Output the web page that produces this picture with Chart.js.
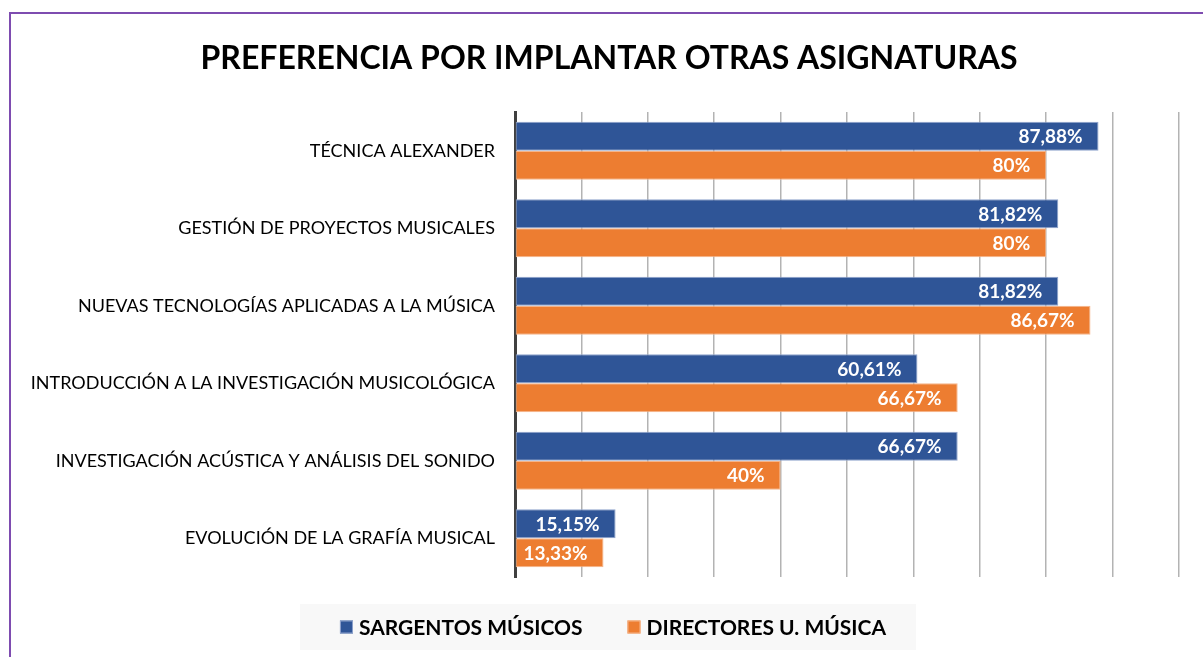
<!DOCTYPE html>
<html>
<head>
<meta charset="utf-8">
<script src="https://cdn.jsdelivr.net/npm/chart.js@4.4.1/dist/chart.umd.min.js"></script>
<style>
  html, body { margin: 0; padding: 0; background: #fff; }
  #wrap { position: relative; width: 1203px; height: 657px; overflow: hidden; }
  #frame { position: absolute; left: 9px; top: 12px; width: 1220px; height: 700px; border: 2px solid #7e4cb0; box-sizing: border-box; }
  canvas { position: absolute; left: 0; top: 0; }
</style>
</head>
<body>
<div id="wrap">
  <div id="frame"></div>
  <canvas id="c" width="1203" height="657"></canvas>
</div>
<script>
const FONT = 'Lato, "Open Sans", sans-serif';
const titleText = 'PREFERENCIA POR IMPLANTAR OTRAS ASIGNATURAS';
const categories = [
  'TÉCNICA ALEXANDER',
  'GESTIÓN DE PROYECTOS MUSICALES',
  'NUEVAS TECNOLOGÍAS APLICADAS A LA MÚSICA',
  'INTRODUCCIÓN A LA INVESTIGACIÓN MUSICOLÓGICA',
  'INVESTIGACIÓN ACÚSTICA Y ANÁLISIS DEL SONIDO',
  'EVOLUCIÓN DE LA GRAFÍA MUSICAL'
];
const seriesNames = ['SARGENTOS MÚSICOS', 'DIRECTORES U. MÚSICA'];
const sargentos = [87.88, 81.82, 81.82, 60.61, 66.67, 15.15];
const directores = [80, 80, 86.67, 66.67, 40, 13.33];
const colors = ['#2F5597', '#ED7D31'];
const borderColors = ['#8FA3CC', '#F5B58A'];

function fmt(v) {
  return (Number.isInteger(v) ? String(v) : v.toFixed(2).replace('.', ',')) + '%';
}

const titlePlugin = {
  id: 'customTitle',
  afterDraw(chart) {
    const ctx = chart.ctx;
    ctx.save();
    ctx.font = 'bold 32px ' + FONT;
    ctx.fillStyle = '#000';
    ctx.textAlign = 'center';
    ctx.textBaseline = 'alphabetic';
    ctx.fillText(titleText, 609, 69);
    ctx.restore();
  }
};

const dataLabels = {
  id: 'dataLabels',
  afterDatasetsDraw(chart) {
    const ctx = chart.ctx;
    ctx.save();
    ctx.font = 'bold 19px ' + FONT;
    ctx.fillStyle = '#ffffff';
    ctx.textAlign = 'right';
    ctx.textBaseline = 'middle';
    chart.data.datasets.forEach((ds, i) => {
      const meta = chart.getDatasetMeta(i);
      meta.data.forEach((el, j) => {
        ctx.fillText(fmt(ds.data[j]), el.x - 16, el.y + 1);
      });
    });
    ctx.restore();
  }
};

const customLegend = {
  id: 'customLegend',
  afterDraw(chart) {
    const ctx = chart.ctx;
    ctx.save();
    ctx.fillStyle = '#f8f8f8';
    ctx.fillRect(300, 604, 616, 46);
    ctx.font = 'bold 21px ' + FONT;
    ctx.textBaseline = 'middle';
    ctx.textAlign = 'left';
    const box = 13, gap = 6, itemGap = 45;
    const ds = chart.data.datasets;
    const widths = ds.map(d => ctx.measureText(d.label).width);
    let total = 0;
    widths.forEach((w, i) => { total += box + gap + w + (i < widths.length - 1 ? itemGap : 0); });
    let x = 613 - total / 2;
    const cy = 627;
    ds.forEach((d, i) => {
      ctx.fillStyle = d.backgroundColor;
      ctx.fillRect(x, cy - box / 2, box, box);
      ctx.strokeStyle = d.borderColor;
      ctx.lineWidth = 1;
      ctx.strokeRect(x + 0.5, cy - box / 2 + 0.5, box - 1, box - 1);
      x += box + gap;
      ctx.fillStyle = '#000';
      ctx.fillText(d.label, x, cy + 1);
      x += widths[i] + itemGap;
    });
    ctx.restore();
  }
};

new Chart(document.getElementById('c'), {
  type: 'bar',
  data: {
    labels: categories,
    datasets: [
      { label: seriesNames[0], data: sargentos, backgroundColor: colors[0], borderColor: borderColors[0], borderWidth: 1, borderSkipped: false },
      { label: seriesNames[1], data: directores, backgroundColor: colors[1], borderColor: borderColors[1], borderWidth: 1, borderSkipped: false }
    ]
  },
  options: {
    indexAxis: 'y',
    responsive: false,
    animation: false,
    maintainAspectRatio: false,
    layout: { padding: { left: 0, right: 24, top: 112, bottom: 80 } },
    datasets: { bar: { categoryPercentage: 0.75, barPercentage: 1 } },
    plugins: {
      legend: { display: false },
      tooltip: { enabled: false },
      title: { display: false }
    },
    scales: {
      x: {
        min: 0, max: 100,
        ticks: { display: false, stepSize: 10 },
        grid: { color: '#b3b3b3', lineWidth: 1.5, drawTicks: false },
        border: { display: false },
        afterFit(s) { s.height = 0; }
      },
      y: {
        ticks: { color: '#000', font: { family: FONT, size: 18 }, padding: 20 },
        grid: { display: false, drawTicks: false },
        border: { display: true, color: '#404040', width: 3 },
        afterFit(s) { s.width = 515; }
      }
    }
  },
  plugins: [titlePlugin, dataLabels, customLegend]
});
</script>
</body>
</html>
